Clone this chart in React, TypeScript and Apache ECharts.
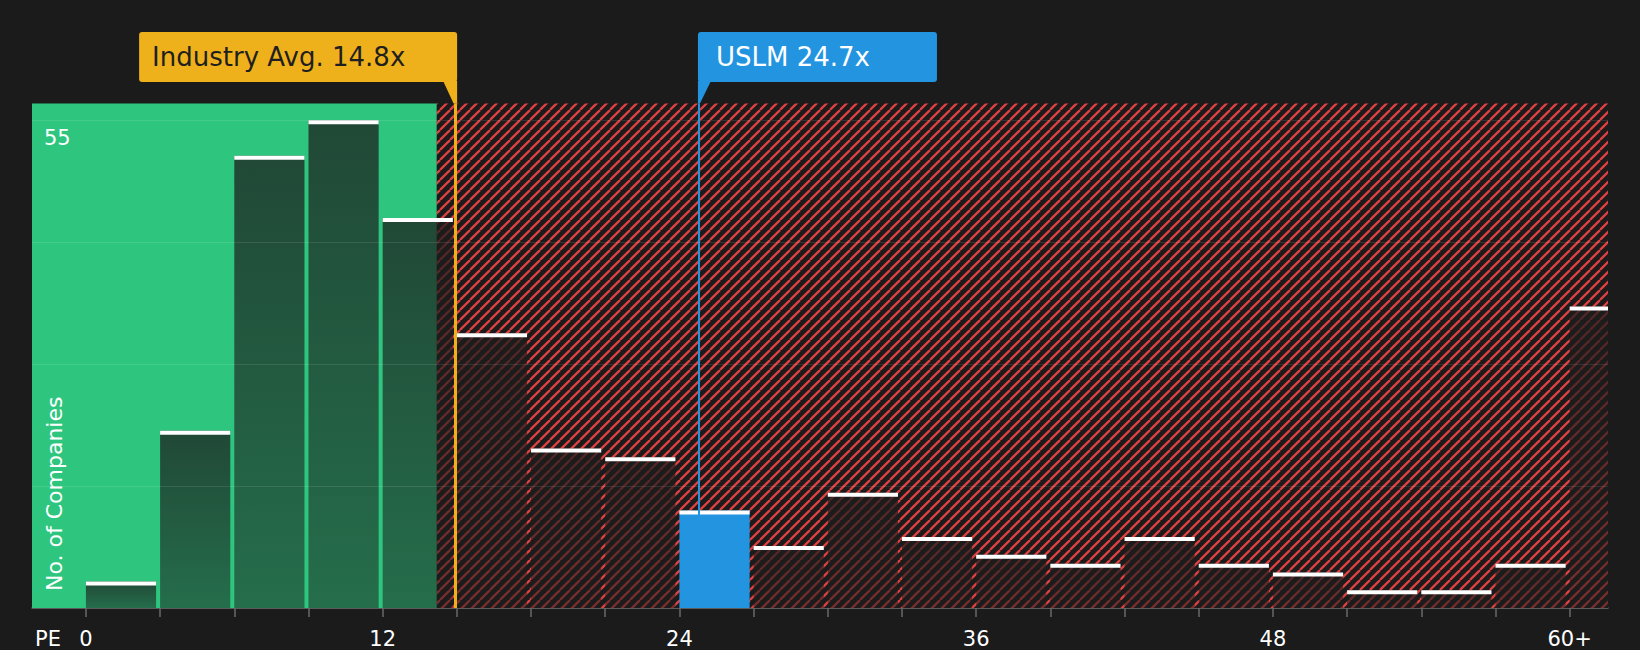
import React, { useEffect, useRef } from "react";
import * as echarts from "echarts";

// ---- data ----
const binStarts = [0, 3, 6, 9, 12, 15, 18, 21, 24, 27, 30, 33, 36, 39, 42, 45, 48, 51, 54, 57, 60];
const binWidth = 3;
const companyCounts = [3, 20, 51, 55, 44, 31, 18, 17, 11, 7, 13, 8, 6, 5, 8, 5, 4, 2, 2, 5, 34];
const highlightBin = 8; // USLM bin (24-27)
const xTickValues = [0, 3, 6, 9, 12, 15, 18, 21, 24, 27, 30, 33, 36, 39, 42, 45, 48, 51, 54, 57, 60];
const xLabelValues = [0, 12, 24, 36, 48, 60];
const yLabelValues = [55];
const industryAvgText = "Industry Avg. 14.8x";
const industryLineAt = 14.93;
const uslmText = "USLM 24.7x";
const uslmLineAt = 24.79;
const greenZoneEnd = 14.19;
const xMin = -2.18;
const xMax = 61.55;
const yMin = 0;
const yMax = 56.9;
const yInterval = 13.75;

const FONT = "DejaVu Sans";
const ORANGE = "#efb11b";
const BLUE = "#2394e0";
const GREEN = "#2ec67f";
const RED = "#df4140";
const BG = "#1b1b1b";

function makeHatch(): HTMLCanvasElement {
  const s = 10;
  const c = document.createElement("canvas");
  c.width = s;
  c.height = s;
  const ctx = c.getContext("2d")!;
  ctx.fillStyle = BG;
  ctx.fillRect(0, 0, s, s);
  ctx.strokeStyle = RED;
  ctx.lineWidth = 2.3;
  for (const o of [-s, 0, s]) {
    ctx.beginPath();
    ctx.moveTo(o, s);
    ctx.lineTo(o + s, 0);
    ctx.stroke();
  }
  return c;
}

export default function App() {
  const ref = useRef<HTMLDivElement>(null);

  useEffect(() => {
    if (!ref.current) return;
    const chart = echarts.init(ref.current, undefined, { renderer: "svg" });
    const hatch = makeHatch();

    const barData = binStarts.map((s, i) => [s, s + binWidth, companyCounts[i], i === highlightBin ? 1 : 0]);

    const option: any = {
      animation: false,
      backgroundColor: BG,
      textStyle: { fontFamily: FONT },
      grid: { left: 32, right: 32, top: 103.5, bottom: 42, containLabel: false },
      xAxis: {
        type: "value",
        min: xMin,
        max: xMax,
        splitLine: { show: false },
        axisLine: { show: true, lineStyle: { color: "#4a4a4a", width: 2 } },
        axisTick: {
          show: true,
          customValues: xTickValues,
          length: 9,
          lineStyle: { color: "#555555", width: 2 },
        },
        axisLabel: {
          customValues: xLabelValues,
          formatter: (v: number) => (v === 60 ? "60+" : String(v)),
          color: "#ffffff",
          fontSize: 21,
          lineHeight: 20,
          fontFamily: FONT,
          margin: 21,
        },
      },
      yAxis: {
        type: "value",
        min: yMin,
        max: yMax,
        interval: yInterval,
        z: 10,
        axisLine: { show: false },
        axisTick: { show: false },
        splitLine: { show: true, showMaxLine: false, lineStyle: { color: "rgba(255,255,255,0.1)", width: 1 } },
        axisLabel: {
          inside: true,
          margin: 12,
          formatter: (v: number) => (yLabelValues.includes(v) ? String(v) : ""),
          color: "#ffffff",
          fontSize: 21,
          fontFamily: FONT,
          verticalAlign: "top",
          padding: [7, 0, 0, 0],
        },
      },
      series: [
        {
          type: "line",
          data: [],
          z: 1,
          silent: true,
          markArea: {
            silent: true,
            data: [
              [{ xAxis: xMin, itemStyle: { color: GREEN, opacity: 1 } }, { xAxis: greenZoneEnd }],
              [
                {
                  xAxis: greenZoneEnd,
                  itemStyle: { color: { image: hatch, repeat: "repeat", imageWidth: 10, imageHeight: 10 }, opacity: 1 },
                },
                { xAxis: xMax },
              ],
            ],
          },
        },
        {
          type: "line",
          data: [],
          z: 2,
          silent: true,
          markLine: {
            silent: true,
            symbol: ["none", "none"],
            label: { show: false },
            data: [
              { xAxis: industryLineAt, lineStyle: { color: ORANGE, width: 3, type: "solid" } },
              { xAxis: uslmLineAt, lineStyle: { color: BLUE, width: 2, type: "solid" } },
            ],
          },
        },
        {
          type: "custom",
          z: 3,
          clip: true,
          silent: true,
          data: barData,
          renderItem: (params: any, api: any) => {
            const x0 = api.value(0);
            const x1 = api.value(1);
            const v = api.value(2);
            const hl = api.value(3) === 1;
            const pTop = api.coord([x0, v]);
            const pBot = api.coord([x1, 0]);
            const left = pTop[0];
            const w = pBot[0] - pTop[0] - 4;
            const top = pTop[1];
            const h = pBot[1] - pTop[1];
            const fill = hl
              ? BLUE
              : {
                  type: "linear",
                  x: 0,
                  y: 0,
                  x2: 0,
                  y2: 1,
                  colorStops: [
                    { offset: 0, color: "rgba(28,28,28,0.74)" },
                    { offset: 1, color: "rgba(28,28,28,0.52)" },
                  ],
                };
            return {
              type: "group",
              children: [
                { type: "rect", shape: { x: left, y: top, width: w, height: h }, style: { fill } },
                { type: "rect", shape: { x: left, y: top, width: w, height: 4 }, style: { fill: "#ffffff" } },
              ],
            };
          },
        },
      ],
    };

    chart.setOption(option);

    const xInd = chart.convertToPixel({ xAxisIndex: 0 }, industryLineAt) as number;
    const xUs = chart.convertToPixel({ xAxisIndex: 0 }, uslmLineAt) as number;
    const plotTop = chart.convertToPixel({ yAxisIndex: 0 }, yMax) as number;
    const plotBottom = chart.convertToPixel({ yAxisIndex: 0 }, 0) as number;
    const boxTop = 32;
    const boxH = 50;
    const boxBottom = boxTop + boxH;
    const indW = 318;
    const usW = 239;

    chart.setOption({
      graphic: [
        {
          type: "group",
          silent: true,
          z: 100,
          children: [
            {
              type: "rect",
              z: 100,
              shape: { x: xInd + 2 - indW, y: boxTop, width: indW, height: boxH, r: 3 },
              style: { fill: ORANGE },
            },
            {
              type: "polygon",
              z: 100,
              shape: {
                points: [
                  [xInd - 12, boxBottom - 1],
                  [xInd + 2, boxBottom - 1],
                  [xInd + 2, plotTop],
                  [xInd - 1.5, plotTop],
                ],
              },
              style: { fill: ORANGE },
            },
            {
              type: "text",
              z: 101,
              x: xInd + 2 - indW + 13,
              y: boxTop + boxH / 2,
              style: {
                text: industryAvgText,
                fill: "#1f1f1f",
                fontSize: 26,
                fontFamily: FONT,
                align: "left",
                verticalAlign: "middle",
              },
            },
          ],
        },
        {
          type: "group",
          silent: true,
          z: 100,
          children: [
            {
              type: "rect",
              z: 100,
              shape: { x: xUs - 1, y: boxTop, width: usW, height: boxH, r: 3 },
              style: { fill: BLUE },
            },
            {
              type: "polygon",
              z: 100,
              shape: {
                points: [
                  [xUs - 1, boxBottom - 1],
                  [xUs + 12, boxBottom - 1],
                  [xUs + 1, plotTop],
                  [xUs - 1, plotTop],
                ],
              },
              style: { fill: BLUE },
            },
            {
              type: "text",
              z: 101,
              x: xUs - 1 + 18,
              y: boxTop + boxH / 2,
              style: {
                text: uslmText,
                fill: "#ffffff",
                fontSize: 26,
                fontFamily: FONT,
                align: "left",
                verticalAlign: "middle",
              },
            },
          ],
        },
        {
          type: "text",
          silent: true,
          z: 100,
          x: 54.5,
          y: plotBottom - 17,
          rotation: Math.PI / 2,
          style: {
            text: "No. of Companies",
            fill: "#ffffff",
            fontSize: 22,
            fontFamily: FONT,
            align: "left",
            verticalAlign: "middle",
          },
        },
        {
          type: "text",
          silent: true,
          z: 100,
          x: 35,
          y: plotBottom + 31,
          style: {
            text: "PE",
            fill: "#ffffff",
            fontSize: 21,
            lineHeight: 20,
            fontFamily: FONT,
            align: "left",
            verticalAlign: "middle",
          },
        },
      ],
    });

    return () => {
      chart.dispose();
    };
  }, []);

  return (
    <div
      ref={ref}
      style={{ position: "fixed", left: 0, top: 0, width: 1640, height: 650, background: BG }}
    />
  );
}
